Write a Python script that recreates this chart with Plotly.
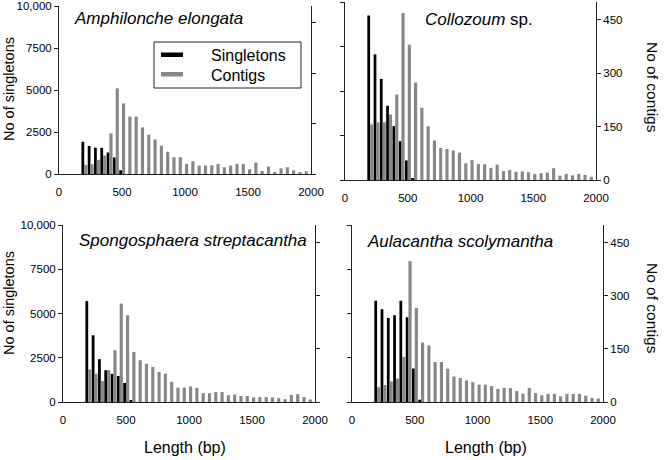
import plotly.graph_objects as go

# Datos: clases de longitud (bp) y recuentos por especie
bins = [200, 250, 300, 350, 400, 450, 500, 550, 600, 650, 700, 750, 800, 850,
        900, 950, 1000, 1050, 1100, 1150, 1200, 1250, 1300, 1350, 1400, 1450,
        1500, 1550, 1600, 1650, 1700, 1750, 1800, 1850, 1900, 1950]

amph_single = [1920, 1670, 1570, 1560, 1280, 980, 220]
amph_contig = [27, 29, 42, 55, 121, 255, 210, 171, 171, 139, 117, 103, 84, 66, 50, 50,
               30, 38, 25, 25, 26, 30, 20, 25, 30, 30, 14, 34, 9, 22, 5, 17, 20, 11, 3, 8]

coll_single = [9240, 7060, 5680, 4170, 3030, 2180, 1100, 80]
coll_contig = [156, 162, 162, 184, 240, 469, 380, 274, 203, 151, 111, 90, 87, 83, 77, 47,
               56, 45, 44, 34, 43, 25, 28, 23, 24, 22, 17, 19, 21, 33, 12, 17, 13, 17, 14, 9]

spong_single = [5700, 3770, 2420, 1790, 1590, 1470, 1075, 95]
spong_contig = [92, 80, 59, 90, 146, 278, 245, 141, 118, 108, 99, 85, 80, 57, 41, 41,
                44, 40, 25, 25, 28, 28, 19, 21, 17, 17, 13, 14, 14, 13, 11, 8, 20, 22, 14, 7]

aula_single = [5720, 5245, 4750, 4900, 5720, 4790, 1890, 130]
aula_contig = [42, 48, 58, 66, 127, 398, 266, 168, 160, 113, 113, 94, 72, 68, 61, 56,
               49, 49, 45, 37, 40, 39, 31, 24, 40, 25, 19, 23, 23, 16, 23, 23, 23, 18, 11, 10]

titles = ["<i>Amphilonche elongata</i>", "<i>Collozoum</i> sp.",
          "<i>Spongosphaera streptacantha</i>", "<i>Aulacantha scolymantha</i>"]

W, H = 664, 460
FONT = "Liberation Sans, Arial, sans-serif"
LINE = "#222222"
GREY = "#878787"


def px(x):
    return x / W


def py(y):
    return 1 - y / H


# (left, right, top, bottom) en pixeles de cada panel
panels = [
    (59, 311, 6, 174),
    (345, 596, 2, 180),
    (63, 315, 225, 402),
    (352, 603, 225, 402),
]
singles = [amph_single, coll_single, spong_single, aula_single]
contigs = [amph_contig, coll_contig, spong_contig, aula_contig]

fig = go.Figure()
layout = {}

for i, (l, r, t, b) in enumerate(panels):
    n = i + 1
    xa = "x" if n == 1 else "x%d" % n
    ya = "y%d" % (2 * n - 1) if n > 1 else "y"
    yb = "y%d" % (2 * n)
    left_panel = i % 2 == 0

    fig.add_trace(go.Bar(
        x=bins[:len(singles[i])], y=singles[i], xaxis=xa, yaxis=ya,
        marker=dict(color="black", line=dict(width=0)),
        width=22, offset=-22, showlegend=False, name="Singletons"
    ))
    fig.add_trace(go.Bar(
        x=bins, y=contigs[i], xaxis=xa, yaxis=yb,
        marker=dict(color=GREY, line=dict(width=0)),
        width=25, offset=0, showlegend=False, name="Contigs"
    ))

    common = dict(showline=True, linecolor=LINE, linewidth=1, showgrid=False,
                  zeroline=False, automargin=False, ticklabeloverflow="allow",
                  tickfont=dict(size=11.5, color="black"))
    layout["xaxis" if n == 1 else "xaxis%d" % n] = dict(
        domain=[px(l), px(r)], anchor=ya, range=[0, 2000],
        tickvals=[0, 500, 1000, 1500, 2000], ticks="",
        ticklabelstandoff=7, **common
    )
    layout["yaxis" if n == 1 else "yaxis%d" % (2 * n - 1)] = dict(
        domain=[py(b), py(t)], anchor=xa, range=[0, 10000],
        tickvals=[0, 2500, 5000, 7500, 10000],
        ticktext=["0", "2500", "5000", "7500", "10,000"],
        ticks="outside", ticklen=4, tickcolor=LINE,
        showticklabels=left_panel, ticklabelstandoff=0, **common
    )
    layout["yaxis%d" % (2 * n)] = dict(
        domain=[py(b), py(t)], anchor=xa, overlaying=ya, side="right",
        range=[0, 500], tickvals=[0, 150, 300, 450],
        ticks="outside", ticklen=4, tickcolor=LINE,
        showticklabels=not left_panel, ticklabelstandoff=0, **common
    )


def note(text, x, y, size, angle=0, xanchor="center"):
    return dict(text=text, x=px(x), y=py(y), xref="paper", yref="paper",
                xanchor=xanchor, yanchor="middle", textangle=angle,
                showarrow=False, font=dict(size=size, color="black"))


annotations = []
# nombres de especie
for txt, (x, y) in zip(titles, [(72, 19), (423, 20), (77, 240), (365, 242)]):
    annotations.append(note(txt, x, y, 17, xanchor="left"))
# titulos de ejes
for y in (89, 303):
    annotations.append(note("No of singletons", 9, y, 14.5, angle=-90))
for y in (87, 308):
    annotations.append(note("No of contigs", 653, y, 15.5, angle=90))
for x in (185, 486):
    annotations.append(note("Length (bp)", x, 447, 16))
# leyenda dibujada a mano
annotations.append(note("Singletons", 209, 56, 16, xanchor="left"))
annotations.append(note("Contigs", 209, 75, 16, xanchor="left"))

shapes = [
    dict(type="rect", xref="paper", yref="paper", x0=px(154), x1=px(301), y0=py(88), y1=py(42),
         line=dict(color=LINE, width=1), fillcolor="white"),
    dict(type="rect", xref="paper", yref="paper", x0=px(161), x1=px(183), y0=py(57), y1=py(52.5),
         line=dict(width=0), fillcolor="black"),
    dict(type="rect", xref="paper", yref="paper", x0=px(161), x1=px(183), y0=py(76.5), y1=py(72),
         line=dict(width=0), fillcolor=GREY),
]

fig.update_layout(
    width=W, height=H,
    margin=dict(l=0, r=0, t=0, b=0, autoexpand=False),
    paper_bgcolor="white", plot_bgcolor="white",
    barmode="overlay",
    font=dict(family=FONT, color="black"),
    annotations=annotations,
    shapes=shapes,
    **layout
)

fig.write_html("out.html", config={"displayModeBar": False},
               post_script="document.body.style.margin='0';")
